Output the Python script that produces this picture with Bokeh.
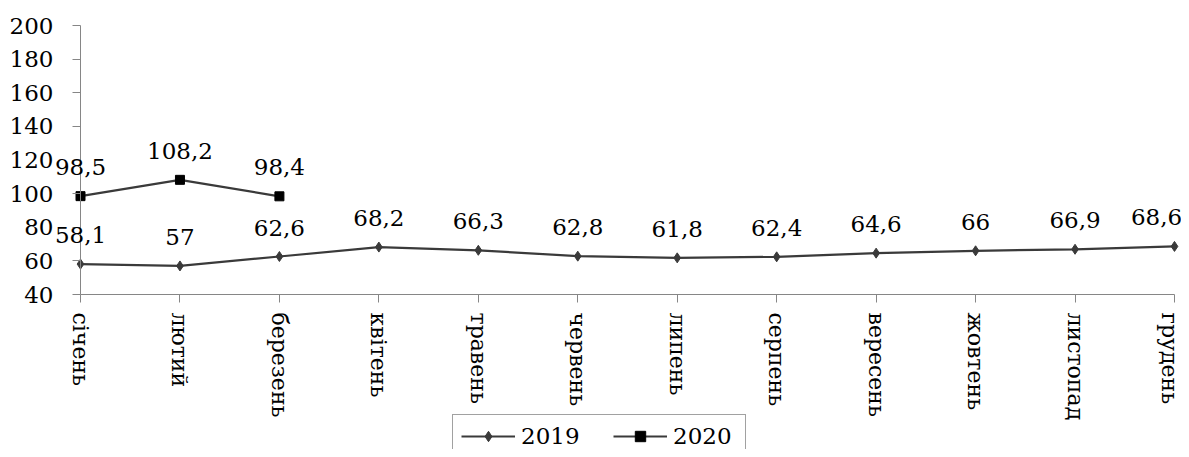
from bokeh.plotting import figure
from bokeh.models import (Range1d, FixedTicker, ColumnDataSource, LabelSet,
                          Legend, LegendItem)
from bokeh.core.properties import value
from bokeh.embed import file_html
from bokeh.resources import INLINE

months = ["січень", "лютий", "березень", "квітень", "травень", "червень",
          "липень", "серпень", "вересень", "жовтень", "листопад", "грудень"]
values_2019 = [58.1, 57, 62.6, 68.2, 66.3, 62.8, 61.8, 62.4, 64.6, 66, 66.9, 68.6]
values_2020 = [98.5, 108.2, 98.4]
y_ticks = [40, 60, 80, 100, 120, 140, 160, 180, 200]

FONT = "DejaVu Serif"
LINE_COL = "#3a3a3a"
AXIS_COL = "#868686"


def fmt(v):
    return f"{v:g}".replace(".", ",")


def offsets(n):
    # keep the last label inside the chart edge, as the original does
    return [0] * (n - 1) + [-18]


src19 = ColumnDataSource(dict(x=list(range(len(values_2019))), y=values_2019,
                              t=[fmt(v) for v in values_2019],
                              dx=offsets(len(values_2019))))
src20 = ColumnDataSource(dict(x=list(range(len(values_2020))), y=values_2020,
                              t=[fmt(v) for v in values_2020],
                              dx=[0] * len(values_2020)))

p = figure(width=1181, height=449, output_backend="svg", toolbar_location=None,
           x_range=Range1d(-0.8044, 11.0704), y_range=Range1d(-52.19, 214.87),
           min_border_left=0, min_border_right=0, min_border_top=0,
           min_border_bottom=0)
p.outline_line_color = None
p.xgrid.visible = False
p.ygrid.visible = False

# y axis
ya = p.yaxis[0]
ya.fixed_location = 0
ya.bounds = (y_ticks[0], y_ticks[-1])
ya.ticker = FixedTicker(ticks=y_ticks)
ya.axis_line_color = AXIS_COL
ya.major_tick_line_color = AXIS_COL
ya.major_tick_in = 0
ya.major_tick_out = 8
ya.minor_tick_line_color = None
ya.major_label_standoff = 19
ya.major_label_text_font = FONT
ya.major_label_text_font_size = "23px"
ya.major_label_text_color = "black"

# x axis
xa = p.xaxis[0]
xa.fixed_location = y_ticks[0]
xa.ticker = FixedTicker(ticks=list(range(len(months))))
xa.major_label_overrides = {i: m for i, m in enumerate(months)}
xa.major_label_orientation = "vertical"
xa.bounds = (0, len(months) - 1)
xa.axis_line_color = AXIS_COL
xa.major_tick_line_color = AXIS_COL
xa.major_tick_in = 0
xa.major_tick_out = 8
xa.minor_tick_line_color = None
xa.major_label_standoff = 10
xa.major_label_text_font = FONT
xa.major_label_text_font_size = "22px"
xa.major_label_text_color = "black"

l19 = p.line("x", "y", source=src19, line_color=LINE_COL, line_width=2.2)
s19 = p.scatter("x", "y", source=src19, marker="diamond", size=10,
                fill_color=LINE_COL, line_color=LINE_COL)
l20 = p.line("x", "y", source=src20, line_color=LINE_COL, line_width=2.2)
s20 = p.scatter("x", "y", source=src20, marker="square", size=9,
                fill_color="black", line_color="black")

for src in (src19, src20):
    p.add_layout(LabelSet(x="x", y="y", text="t", source=src, text_align="center",
                          text_baseline="alphabetic", y_offset=21, x_offset="dx",
                          text_font=value(FONT),
                          text_font_size=value("23px"), text_color="black"))

legend = Legend(items=[LegendItem(label="2019", renderers=[l19, s19]),
                       LegendItem(label="2020", renderers=[l20, s20])],
                orientation="horizontal", location=(452, -9),
                label_text_font=FONT, label_text_font_size="23px",
                label_text_color="black", glyph_width=54, glyph_height=26,
                label_width=64, label_standoff=6, spacing=28, padding=8,
                margin=0, border_line_color="#444444", border_line_width=1,
                background_fill_color="white", background_fill_alpha=1.0)
p.add_layout(legend, "center")

open("out.html", "w").write(file_html(p, INLINE))
